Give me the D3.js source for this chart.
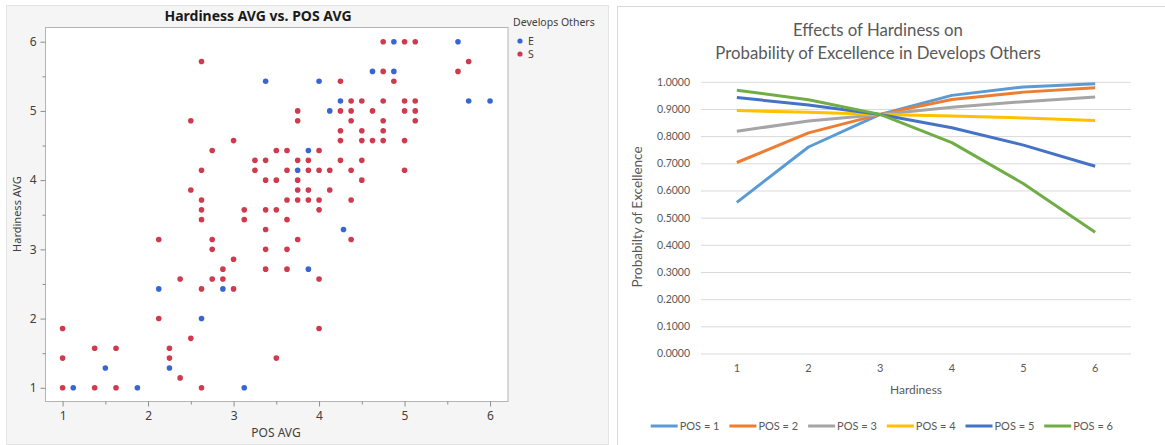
<!DOCTYPE html>
<html>
<head>
<meta charset="utf-8">
<script src="https://cdn.jsdelivr.net/npm/d3@7"></script>
<style>
  html, body { margin: 0; padding: 0; background: #fff; }
  svg { display: block; }
</style>
</head>
<body>
<div id="chart"></div>
<script>
// ---- left panel: scatter (POS AVG vs Hardiness AVG) ----
const ePos  = [1.125, 1.875, 3.125, 1.5, 2.25, 2.625, 2.125, 2.875, 3.875, 4.286, 3.75, 3.875, 4.125, 4.25, 5.75, 6, 3.375, 4, 4.625, 4.875, 4.875, 5.625];
const eHard = [1, 1, 1, 1.286, 1.286, 2, 2.429, 2.429, 2.714, 3.286, 4.143, 4.429, 5, 5.143, 5.143, 5.143, 5.429, 5.429, 5.571, 5.571, 6, 6];

const sPos = [
  1, 1.375, 1.625, 2.625,
  2.375,
  1, 2.25, 3.5,
  1.375, 1.625, 2.25,
  2.5,
  1, 4,
  2.125,
  2.625, 3,
  2.375, 2.75, 2.875, 4,
  2.875, 3.375, 3.625,
  3,
  2.75, 3.375, 3.625,
  2.125, 2.75, 3.75, 4.375,
  3.375,
  2.625, 3.125, 3.625,
  2.625, 3.125, 3.375, 3.5, 4,
  2.625, 3.625, 3.75, 3.875, 4, 4.375,
  2.5, 3.75, 3.875, 4.125,
  3.375, 3.5, 3.75, 4.5,
  2.625, 3.25, 3.625, 3.875, 4, 4.125, 4.375, 5,
  3.25, 3.375, 3.75, 3.875, 4.25, 4.5,
  2.75, 3.5, 3.625, 4,
  3, 4.25, 4.5, 4.625, 4.75, 5,
  4.25, 4.5, 4.75,
  2.5, 3.75, 4.375, 4.75, 5.125,
  3.75, 4.25, 4.375, 4.625, 5, 5.125,
  4.375, 4.5, 4.75, 5, 5.125,
  4.25, 4.875,
  4.75, 5.625,
  2.625, 5.75,
  4.75, 5, 5.125
];
const sHard = [
  1, 1, 1, 1,
  1.143,
  1.429, 1.429, 1.429,
  1.571, 1.571, 1.571,
  1.714,
  1.857, 1.857,
  2,
  2.429, 2.429,
  2.571, 2.571, 2.571, 2.571,
  2.714, 2.714, 2.714,
  2.857,
  3, 3, 3,
  3.143, 3.143, 3.143, 3.143,
  3.286,
  3.429, 3.429, 3.429,
  3.571, 3.571, 3.571, 3.571, 3.571,
  3.714, 3.714, 3.714, 3.714, 3.714, 3.714,
  3.857, 3.857, 3.857, 3.857,
  4, 4, 4, 4,
  4.143, 4.143, 4.143, 4.143, 4.143, 4.143, 4.143, 4.143,
  4.286, 4.286, 4.286, 4.286, 4.286, 4.286,
  4.429, 4.429, 4.429, 4.429,
  4.571, 4.571, 4.571, 4.571, 4.571, 4.571,
  4.714, 4.714, 4.714,
  4.857, 4.857, 4.857, 4.857, 4.857,
  5, 5, 5, 5, 5, 5,
  5.143, 5.143, 5.143, 5.143, 5.143,
  5.429, 5.429,
  5.571, 5.571,
  5.714, 5.714,
  6, 6, 6
];
const scatterTicks = [1, 2, 3, 4, 5, 6];
const scatterMinor = [1.5, 2.5, 3.5, 4.5, 5.5];
const groups = ["E", "S"];
const groupColors = ["#3766d4", "#cf3a4c"];

// ---- right panel: probability lines ----
const hardiness = [1, 2, 3, 4, 5, 6];
const pos1 = [0.556, 0.760, 0.880, 0.950, 0.981, 0.993];
const pos2 = [0.703, 0.812, 0.880, 0.935, 0.962, 0.978];
const pos3 = [0.818, 0.856, 0.880, 0.906, 0.927, 0.944];
const pos4 = [0.894, 0.888, 0.880, 0.874, 0.867, 0.858];
const pos5 = [0.942, 0.915, 0.880, 0.831, 0.767, 0.689];
const pos6 = [0.969, 0.934, 0.880, 0.776, 0.625, 0.446];
const seriesNames = ["POS = 1", "POS = 2", "POS = 3", "POS = 4", "POS = 5", "POS = 6"];
const seriesColors = ["#5b9bd5", "#ed7d31", "#a5a5a5", "#ffc000", "#4472c4", "#70ad47"];
const probTicks = [0, 0.1, 0.2, 0.3, 0.4, 0.5, 0.6, 0.7, 0.8, 0.9, 1.0];

const W = 1165, H = 445;
const svg = d3.select("#chart").append("svg")
  .attr("width", W).attr("height", H);

// ================= LEFT PANEL =================
const jmpFont = "'Noto Sans', 'Open Sans', sans-serif";

svg.append("rect")
  .attr("x", 6.5).attr("y", 5.5).attr("width", 602).attr("height", 439)
  .attr("fill", "#f5f5f5").attr("stroke", "#e4e4e4");

const sx = d3.scaleLinear().domain([0.806, 6.21]).range([46, 508]);
const sy = d3.scaleLinear().domain([0.802, 6.205]).range([401.5, 27.5]);

svg.append("rect")
  .attr("x", 45.5).attr("y", 27.5).attr("width", 462.5).attr("height", 374)
  .attr("fill", "#fff").attr("stroke", "#b4b4b4");

function styleAxis(g) {
  g.select(".domain").remove();
  g.selectAll(".tick line").attr("stroke", "#8c8c8c");
  g.selectAll(".tick text").attr("fill", "#404040")
    .style("font-family", jmpFont).style("font-size", "12px");
}

svg.append("g").attr("transform", "translate(45.5,0)")
  .call(d3.axisLeft(sy).tickValues(scatterTicks).tickSize(5).tickPadding(4).tickFormat(d3.format("d")))
  .call(styleAxis);
svg.append("g").attr("transform", "translate(45.5,0)")
  .call(d3.axisLeft(sy).tickValues(scatterMinor).tickSize(3).tickFormat(""))
  .call(styleAxis);
svg.append("g").attr("transform", "translate(0,401.5)")
  .call(d3.axisBottom(sx).tickValues(scatterTicks).tickSize(5).tickPadding(5).tickFormat(d3.format("d")))
  .call(styleAxis);
svg.append("g").attr("transform", "translate(0,401.5)")
  .call(d3.axisBottom(sx).tickValues(scatterMinor).tickSize(3).tickFormat(""))
  .call(styleAxis);

svg.append("text")
  .attr("x", 258).attr("y", 21)
  .attr("text-anchor", "middle")
  .style("font-family", jmpFont).style("font-size", "14px").style("font-weight", "bold")
  .attr("fill", "#1a1a1a")
  .text("Hardiness AVG vs. POS AVG");

svg.append("text")
  .attr("transform", "translate(21,214) rotate(-90)")
  .attr("text-anchor", "middle")
  .style("font-family", jmpFont).style("font-size", "11px")
  .attr("fill", "#404040")
  .text("Hardiness AVG");

svg.append("text")
  .attr("x", 276).attr("y", 437)
  .attr("text-anchor", "middle")
  .style("font-family", jmpFont).style("font-size", "12px")
  .attr("fill", "#404040")
  .text("POS AVG");

const points = [
  ...sPos.map((p, i) => ({ pos: p, hard: sHard[i], g: "S" })),
  ...ePos.map((p, i) => ({ pos: p, hard: eHard[i], g: "E" }))
];
const gColor = d3.scaleOrdinal().domain(groups).range(groupColors);

svg.append("g").selectAll("circle")
  .data(points)
  .enter().append("circle")
  .attr("cx", d => sx(d.pos))
  .attr("cy", d => sy(d.hard))
  .attr("r", 2.8)
  .attr("fill", d => gColor(d.g));

// legend
svg.append("text")
  .attr("x", 513).attr("y", 26)
  .style("font-family", jmpFont).style("font-size", "10.5px")
  .attr("fill", "#404040")
  .text("Develops Others");
const sLeg = svg.append("g").selectAll("g")
  .data(groups).enter().append("g")
  .attr("transform", (d, i) => `translate(520,${41 + i * 13})`);
sLeg.append("circle").attr("r", 2.6).attr("fill", d => gColor(d));
sLeg.append("text").attr("x", 8).attr("dy", "0.35em")
  .style("font-family", jmpFont).style("font-size", "10.5px")
  .attr("fill", "#404040")
  .text(d => d);

// ================= RIGHT PANEL =================
const xlFont = "Lato, 'Open Sans', sans-serif";

svg.append("rect")
  .attr("x", 617.5).attr("y", 6.5).attr("width", 560).attr("height", 445)
  .attr("fill", "#fff").attr("stroke", "#d9d9d9");

const lx = d3.scaleBand().domain(hardiness).range([701, 1131]);
const ly = d3.scaleLinear().domain([0, 1]).range([353.5, 81.8]);

const grid = svg.append("g").attr("transform", "translate(701,0)")
  .call(d3.axisLeft(ly).tickValues(probTicks).tickSize(-430).tickPadding(11)
    .tickFormat(d3.format(".4f")));
grid.select(".domain").remove();
grid.selectAll(".tick line").attr("stroke", "#d9d9d9");
grid.selectAll(".tick text").attr("fill", "#595959")
  .style("font-family", xlFont).style("font-size", "10.5px");

const xAx = svg.append("g").attr("transform", "translate(0,353.5)")
  .call(d3.axisBottom(lx).tickSize(0).tickPadding(11));
xAx.select(".domain").remove();
xAx.selectAll(".tick text").attr("fill", "#595959")
  .style("font-family", xlFont).style("font-size", "11px");

svg.append("text")
  .attr("x", 878).attr("y", 36)
  .attr("text-anchor", "middle")
  .style("font-family", xlFont).style("font-size", "16.8px")
  .attr("fill", "#595959")
  .text("Effects of Hardiness on");
svg.append("text")
  .attr("x", 878).attr("y", 59)
  .attr("text-anchor", "middle")
  .style("font-family", xlFont).style("font-size", "16.8px")
  .attr("fill", "#595959")
  .text("Probability of Excellence in Develops Others");

svg.append("text")
  .attr("x", 916).attr("y", 394)
  .attr("text-anchor", "middle")
  .style("font-family", xlFont).style("font-size", "12px")
  .attr("fill", "#595959")
  .text("Hardiness");

svg.append("text")
  .attr("transform", "translate(642,217) rotate(-90)")
  .attr("text-anchor", "middle")
  .style("font-family", xlFont).style("font-size", "13.5px")
  .attr("fill", "#595959")
  .text("Probabilty of Excellence");

const allSeries = [pos1, pos2, pos3, pos4, pos5, pos6];
const line = d3.line()
  .x((d, i) => lx(hardiness[i]) + lx.bandwidth() / 2)
  .y(d => ly(d));

svg.append("g").selectAll("path")
  .data(allSeries)
  .enter().append("path")
  .attr("d", d => line(d))
  .attr("fill", "none")
  .attr("stroke", (d, i) => seriesColors[i])
  .attr("stroke-width", 3)
  .attr("stroke-linejoin", "round");

const lLeg = svg.append("g").selectAll("g")
  .data(seriesNames).enter().append("g")
  .attr("transform", (d, i) => `translate(${650.7 + i * 78.7},426)`);
lLeg.append("line")
  .attr("x1", 0).attr("x2", 27)
  .attr("stroke", (d, i) => seriesColors[i])
  .attr("stroke-width", 3);
lLeg.append("text")
  .attr("x", 29).attr("dy", "0.35em")
  .style("font-family", xlFont).style("font-size", "11px")
  .attr("fill", "#595959")
  .text(d => d);
</script>
</body>
</html>
